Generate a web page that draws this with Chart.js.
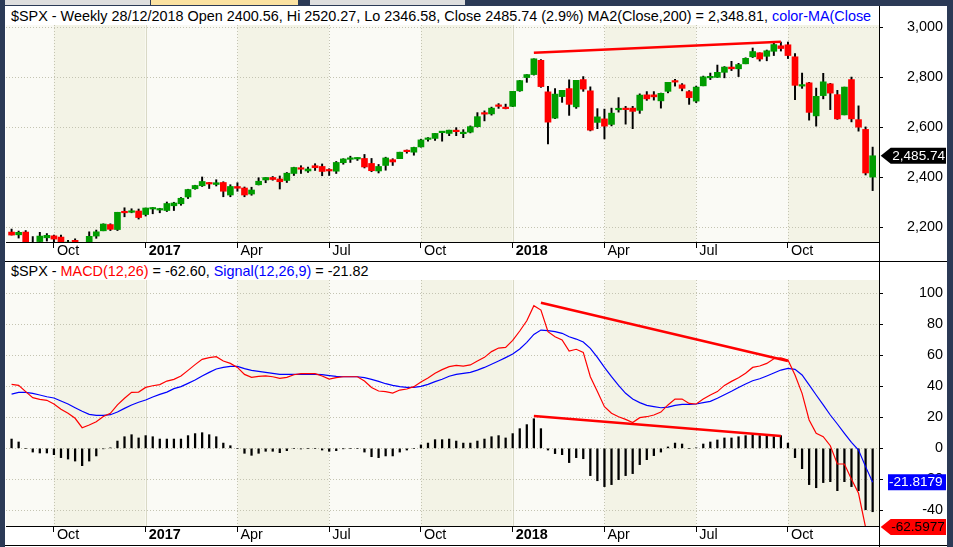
<!DOCTYPE html>
<html lang="en">
<head>
<meta charset="UTF-8">
<title>$SPX Weekly with MACD</title>
<style>
    html, body { margin: 0; padding: 0; }
    body {
        width: 953px;
        height: 547px;
        overflow: hidden;
        position: relative;
        background: #2b3a56;
        font-family: "Liberation Sans", Arial, sans-serif;
    }
    .tab { position: absolute; top: 0; height: 5px; }
    #panel { position: absolute; left: 5px; top: 6px; width: 942px; height: 541px; background: #fff; }
    canvas { position: absolute; }
    #priceCanvas { left: 6px; top: 7px; }
    #macdCanvas { left: 6px; top: 262px; }
    .header {
        position: absolute;
        left: 6px;
        height: 18px;
        line-height: 18px;
        font-size: 14.4px;
        background: #fff;
        white-space: nowrap;
        overflow: hidden;
        padding: 0 2px 0 5px;
        color: #000;
        z-index: 2;
    }
    .line { position: absolute; background: #000; z-index: 3; }
</style>
</head>
<body>
    <div class="tab" style="left:5px;width:145px;background:#dedede"></div>
    <div class="tab" style="left:151px;width:147px;background:#fbe2a2"></div>
    <div class="tab" style="left:310px;width:155px;background:#dedede"></div>
    <div id="panel"></div>

    <canvas id="priceCanvas" width="940" height="253"></canvas>
    <canvas id="macdCanvas" width="940" height="282"></canvas>

    <div class="header" style="top:7px;width:868px;box-sizing:border-box">$SPX - Weekly 28/12/2018 Open 2400.56, Hi 2520.27, Lo 2346.58, Close 2485.74 (2.9%) MA2(Close,200) = 2,348.81, <span style="color:#0000ff">color-MA(Close</span></div>
    <div class="header" style="top:262px">$SPX - <span style="color:#ff0000">MACD(12,26)</span> = -62.60, <span style="color:#0000ff">Signal(12,26,9)</span> = -21.82</div>

    <div class="line" style="left:5px;top:261px;width:942px;height:1px"></div>
    <div class="line" style="left:5px;top:545px;width:942px;height:1px"></div>
    <div class="line" style="left:879px;top:6px;width:1px;height:541px"></div>

    <script src="https://cdn.jsdelivr.net/npm/chart.js@4"></script>
    <script>
        // weekly candles, first week starts Mon 22 Aug 2016
        const open = [
            2181, 2170, 2181, 2120, 2143, 2158, 2166, 2161, 2132, 2148, 2129, 2100, 2165, 2186, 2211, 2191, 2261, 2260, 2265,
            2251, 2273, 2269, 2267, 2286, 2294, 2321, 2354, 2366, 2376, 2371, 2379, 2329, 2363, 2357, 2333, 2370, 2389, 2399, 2393,
            2387, 2415, 2437, 2425, 2446, 2443, 2431, 2424, 2458, 2471.5, 2473, 2475, 2455, 2425, 2447, 2470, 2474, 2505, 2500,
            2521, 2551, 2555, 2578, 2575, 2588, 2574, 2580, 2602, 2657, 2653, 2688, 2680,
            2683, 2745, 2798, 2810, 2867, 2741, 2636, 2722, 2754, 2681, 2790, 2745, 2619, 2633, 2611, 2669.5, 2675, 2676, 2667,
            2729, 2729, 2705, 2743, 2781, 2769, 2742, 2704, 2765, 2797, 2799, 2819, 2840, 2833, 2853, 2881, 2897, 2883, 2903, 2925,
            2929, 2881, 2764, 2777, 2645, 2726, 2773, 2730, 2649, 2790, 2630, 2591, 2400.56
        ];
        const high = [
            2193, 2185, 2187, 2163, 2180, 2175, 2169, 2169, 2148, 2154, 2133, 2182, 2189, 2214, 2214, 2260, 2278, 2274, 2273,
            2277, 2279, 2276, 2301, 2300, 2319, 2352, 2368, 2401, 2379, 2390, 2382, 2370, 2378, 2361, 2360, 2398, 2399, 2403, 2405,
            2419, 2440, 2446, 2441, 2454, 2453, 2434, 2463, 2474, 2484, 2478, 2491, 2475, 2451, 2480, 2474, 2500, 2509, 2520,
            2552, 2558, 2575, 2582, 2588, 2598, 2590, 2605, 2658, 2665, 2680, 2694, 2692,
            2743, 2787, 2810, 2873, 2870, 2763, 2754, 2747, 2789, 2787, 2802, 2761, 2674, 2672, 2676, 2718, 2683, 2683, 2733,
            2742, 2742, 2736, 2779, 2791, 2774, 2746, 2764, 2804, 2816, 2848, 2842, 2863, 2855, 2877, 2916, 2897, 2908, 2941, 2940,
            2940, 2894, 2816, 2779, 2756, 2815, 2775, 2747, 2760, 2800, 2685, 2601, 2520.27
        ];
        const low = [
            2169, 2157, 2127, 2119, 2139, 2145, 2142, 2115, 2124, 2123, 2083, 2084, 2156, 2186, 2187, 2187, 2242, 2258, 2233,
            2245, 2254, 2258, 2263, 2267, 2288, 2315, 2352, 2363, 2355, 2365, 2322, 2322, 2344, 2322, 2328, 2369, 2378, 2388, 2353,
            2379, 2407, 2415, 2419, 2427, 2406, 2407, 2415, 2452, 2459, 2467, 2437, 2422, 2417, 2428, 2447, 2474, 2496, 2488,
            2520, 2544, 2547, 2544, 2566, 2566, 2558, 2577, 2600, 2625, 2648, 2675, 2673,
            2682, 2743, 2779, 2808, 2759, 2533, 2634, 2699, 2647, 2675, 2743, 2585, 2594, 2553, 2605, 2660, 2612, 2594, 2655,
            2707, 2708, 2676, 2737, 2764, 2745, 2691, 2698, 2765, 2790, 2798, 2797, 2826, 2802, 2853, 2878, 2864, 2865, 2886, 2904,
            2874, 2710, 2755, 2628, 2604, 2713, 2670, 2631, 2649, 2621, 2584, 2409, 2346.58
        ];
        const close = [
            2169, 2180, 2128, 2139, 2165, 2168, 2153, 2133, 2141, 2126, 2085, 2164, 2182, 2213, 2192, 2260, 2258, 2264, 2239,
            2277, 2275, 2271, 2295, 2297, 2316, 2351, 2367, 2383, 2373, 2378, 2344, 2363, 2356, 2329, 2349, 2384, 2399, 2391, 2382,
            2416, 2439, 2432, 2433, 2438, 2423, 2425, 2459, 2473, 2472.1, 2477, 2441, 2426, 2443, 2477, 2461, 2500, 2502, 2519,
            2549, 2553, 2575, 2581, 2588, 2582, 2579, 2602, 2642, 2652, 2676, 2683, 2674,
            2743, 2786, 2810, 2873, 2762, 2620, 2732, 2747, 2691, 2787, 2752, 2588, 2641, 2604, 2656, 2670.1, 2670, 2663, 2728,
            2713, 2721, 2735, 2779, 2780, 2755, 2718, 2760, 2801, 2802, 2819, 2840, 2833, 2850, 2875, 2902, 2872, 2905, 2930, 2914,
            2886, 2767, 2768, 2659, 2723, 2781, 2736, 2633, 2760, 2633, 2600, 2417, 2485.74
        ];

        const macd = [
            41.3, 40.6, 36.6, 32.7, 31.6, 31.0, 28.6, 25.2, 22.6, 19.4, 13.3, 15.1, 17.2, 20.6, 22.6, 28.0, 32.3, 36.1, 36.3,
            39.3, 40.4, 41.1, 43.4, 44.5, 46.7, 50.3, 54.0, 57.4, 58.5, 59.1, 56.3, 54.8, 52.2, 47.7, 45.8, 46.4, 46.7, 46.2, 45.2,
            45.8, 47.5, 48.2, 48.2, 48.2, 46.7, 44.7, 45.6, 46.2, 46.2, 46.2, 43.4, 39.3, 37.0, 36.6, 35.7, 37.6, 38.3, 39.8,
            42.8, 45.4, 48.4, 50.8, 52.7, 53.5, 53.1, 53.8, 56.3, 58.7, 62.4, 64.7, 65.1,
            69.7, 75.7, 82.3, 92.0, 89.2, 75.3, 72.0, 69.9, 62.8, 63.9, 61.9, 46.2, 36.6, 26.9, 22.6, 20.4, 18.7, 16.6, 19.8,
            20.4, 21.5, 23.4, 28.0, 31.8, 31.8, 29.0, 28.6, 31.8, 34.4, 36.6, 40.6, 43.2, 45.6, 48.4, 52.2, 53.1, 54.8, 57.8, 58.3,
            57.0, 47.3, 35.5, 18.3, 9.7, 7.5, 1.7, -10.1, -10.1, -20.0, -29.0, -51.0, -62.5977
        ];
        const signal = [
            35.0, 36.1, 36.1, 35.5, 34.4, 33.3, 32.5, 30.5, 28.6, 26.2, 23.9, 21.9, 21.3, 21.3, 21.7, 23.4, 25.8, 28.0, 29.7,
            31.2, 33.1, 34.8, 36.3, 38.5, 39.8, 41.9, 44.1, 46.7, 49.0, 51.2, 52.2, 52.9, 52.9, 51.4, 50.3, 49.7, 49.0, 48.4, 47.7,
            47.7, 47.7, 47.7, 47.7, 47.7, 47.5, 46.9, 46.4, 46.2, 46.2, 46.2, 45.6, 44.5, 43.2, 41.7, 40.6, 39.8, 39.3, 39.3,
            40.0, 41.3, 43.0, 44.6, 46.5, 47.7, 48.4, 49.0, 50.5, 52.2, 54.2, 56.3, 58.5,
            60.8, 64.1, 68.4, 73.5, 76.3, 75.9, 75.3, 74.2, 72.0, 70.5, 68.6, 64.5, 58.7, 52.2, 46.2, 40.6, 35.5, 31.8, 29.5,
            27.7, 26.9, 26.2, 26.6, 27.7, 28.4, 28.4, 28.6, 29.5, 30.3, 32.3, 34.6, 36.8, 39.3, 41.5, 43.6, 44.9, 46.7, 48.6, 50.5,
            51.6, 51.0, 47.3, 40.9, 34.4, 28.0, 21.5, 15.7, 9.7, 3.9, -1.1, -11.8, -21.8179
        ];
        const hist = [
            6.0, 4.1, 0, -2.4, -3.0, -3.0, -4.1, -6.0, -6.9, -8.2, -11.2, -8.2, -4.9, -0.3, 0.3, 4.7, 7.5, 8.8, 6.7,
            8.2, 7.5, 6.0, 6.0, 6.0, 6.0, 8.2, 9.5, 10.1, 8.8, 7.5, 3.4, 1.7, 0, -3.2, -4.5, -3.2, -1.9, -1.9, -2.8,
            -1.5, 0, -0.4, 0, 0, -1.1, -1.9, -1.5, -0.2, 0, 0, -2.4, -5.4, -6.0, -4.9, -4.9, -2.4, -1.1, 0,
            2.2, 3.4, 5.6, 5.6, 6.0, 4.7, 3.4, 3.4, 4.7, 6.0, 7.5, 8.2, 6.7,
            9.5, 12.7, 15.3, 19.1, 12.7, -1.1, -3.4, -4.1, -9.2, -6.0, -6.7, -17.6, -20.9, -24.7, -23.4, -20.2, -17.6, -16.3, -10.5,
            -7.3, -4.7, -2.4, 0.9, 3.4, 2.8, 0, 0.3, 2.8, 4.1, 5.4, 6.7, 6.7, 7.5, 8.2, 8.8, 8.2, 8.2, 7.5, 8.2,
            3.4, -6.0, -13.1, -23.4, -25.4, -22.1, -21.5, -27.3, -21.5, -24.7, -27.3, -39.6, -40.9
        ];

        const tickWeeks = ['2016-10-03', '2017-01-02', '2017-04-03', '2017-07-03', '2017-10-02',
                           '2018-01-01', '2018-04-02', '2018-07-02', '2018-10-01'];
        const tickLabels = ['Oct', '2017', 'Apr', 'Jul', 'Oct', '2018', 'Apr', 'Jul', 'Oct'];
        const priceTicks = [2200, 2400, 2600, 2800, 3000];
        const macdTicks = [-40, -20, 0, 20, 40, 60, 80, 100];

        // hand drawn divergence lines
        const priceTrendWeeks = ['2018-01-22', '2018-09-24'];
        const priceTrendValues = [2897, 2941];
        const macdTrendWeeks = ['2018-01-29', '2018-10-01'];
        const macdTrendValues = [93.9, 56.3];
        const histTrendWeeks = ['2018-01-22', '2018-09-24'];
        const histTrendValues = [20.8, 7.9];

        const weeks = close.map((_, i) => new Date(Date.UTC(2016, 7, 22 + 7 * i)).toISOString().slice(0, 10));
        const wk = w => weeks.indexOf(w);

        const GREEN = '#009c00';
        const RED = '#ff0000';
        const FONT = '"Liberation Sans", Arial, sans-serif';
        const AXIS_W = 64;

        Chart.defaults.font.family = FONT;
        Chart.defaults.font.size = 14.4;
        Chart.defaults.color = '#000';

        // alternating quarter shading and quarter/year separators
        const quarterBands = {
            id: 'quarterBands',
            beforeDraw(chart) {
                const { ctx, chartArea: a, scales: { x } } = chart;
                const idx = tickWeeks.map(wk);
                const edges = [x.min, ...idx, x.max];
                ctx.save();
                for (let k = 0; k < edges.length - 1; k++) {
                    const x0 = x.getPixelForValue(edges[k]);
                    const x1 = x.getPixelForValue(edges[k + 1]);
                    const lbl = k > 0 ? tickLabels[k - 1] : '';
                    ctx.fillStyle = (lbl === 'Oct' || lbl === 'Apr') ? '#f3f3e6' : '#fafaf5';
                    ctx.fillRect(x0, a.top, x1 - x0, a.bottom - a.top);
                }
                idx.forEach((v, k) => {
                    const px = Math.round(x.getPixelForValue(v)) + 0.5;
                    const year = /^\d{4}$/.test(tickLabels[k]);
                    ctx.strokeStyle = year ? '#d9d9c6' : '#c4c4b2';
                    ctx.lineWidth = 1;
                    ctx.setLineDash(year ? [] : [1, 2]);
                    ctx.beginPath();
                    ctx.moveTo(px, a.top);
                    ctx.lineTo(px, a.bottom);
                    ctx.stroke();
                });
                ctx.restore();
            }
        };

        // last value tags on the right axis
        const valueTags = {
            id: 'valueTags',
            afterDraw(chart, args, opts) {
                const { ctx, chartArea: a, scales: { y } } = chart;
                ctx.save();
                ctx.font = '13.6px ' + FONT;
                ctx.textBaseline = 'middle';
                opts.tags.forEach(t => {
                    const py = Math.min(Math.max(y.getPixelForValue(t.value), a.top), a.bottom + 1);
                    const left = a.right + t.left;
                    const right = a.right + 67;
                    ctx.fillStyle = t.bg;
                    ctx.beginPath();
                    if (t.arrow) {
                        ctx.moveTo(a.right + 1.7, py);
                        ctx.lineTo(left, py - 8);
                        ctx.lineTo(right, py - 8);
                        ctx.lineTo(right, py + 8);
                        ctx.lineTo(left, py + 8);
                    } else {
                        ctx.rect(left, py - 8, right - left, 16);
                    }
                    ctx.closePath();
                    ctx.fill();
                    ctx.fillStyle = t.fg;
                    ctx.fillText(t.text, left + t.textIn, py + 0.5);
                });
                ctx.restore();
            }
        };

        function xAxis() {
            return {
                type: 'linear',
                min: -0.79,
                max: 122.9,
                offset: false,
                grid: { drawOnChartArea: false, offset: false, tickLength: 6, tickColor: '#000', tickWidth: 1 },
                border: { color: '#000', width: 1 },
                afterBuildTicks: s => { s.ticks = tickWeeks.map(w => ({ value: wk(w) })); },
                afterFit: s => { s.height = 18; s.paddingLeft = 0; s.paddingRight = 0; },
                ticks: {
                    autoSkip: false,
                    maxRotation: 0,
                    align: 'start',
                    labelOffset: 3,
                    padding: -6,
                    color: '#000',
                    font: c => ({ size: 14.4, weight: (c.tick && /^\d{4}$/.test(c.tick.label)) ? 'bold' : 'normal' }),
                    callback: (v, i) => tickLabels[i]
                }
            };
        }

        function yAxis(min, max, values, fmt) {
            return {
                type: 'linear',
                position: 'right',
                min: min,
                max: max,
                grid: { color: '#c4c4b2', tickLength: 4, tickColor: '#000', tickBorderDash: [] },
                border: { color: '#000', dash: [1, 2] },
                afterBuildTicks: s => { s.ticks = values.map(v => ({ value: v })); },
                afterFit: s => { s.width = AXIS_W; s.paddingTop = 0; s.paddingBottom = 0; },
                ticks: { padding: 6, crossAlign: 'far', color: '#000', font: { size: 14.4 }, callback: fmt }
            };
        }

        const baseOptions = {
            responsive: false,
            animation: false,
            events: [],
            layout: { padding: { top: 18, left: 0, right: 67 - AXIS_W, bottom: 0 } },
            plugins: { legend: { display: false }, tooltip: { enabled: false } }
        };

        const last = close.length - 1;

        new Chart(document.getElementById('priceCanvas'), {
            type: 'bar',
            data: {
                datasets: [
                    {
                        type: 'line',
                        data: priceTrendWeeks.map((w, k) => ({ x: wk(w), y: priceTrendValues[k] })),
                        borderColor: RED,
                        borderWidth: 2.5,
                        pointRadius: 0,
                        order: 0,
                        clip: 0
                    },
                    {
                        data: open.map((o, i) => ({ x: i, y: [o, close[i]] })),
                        backgroundColor: c => (c.dataIndex !== undefined && close[c.dataIndex] < open[c.dataIndex]) ? RED : GREEN,
                        borderWidth: 0,
                        barThickness: 6,
                        minBarLength: 1.5,
                        grouped: false,
                        order: 1,
                        clip: 0
                    },
                    {
                        data: low.map((l, i) => ({ x: i, y: [l, high[i]] })),
                        backgroundColor: '#000',
                        borderWidth: 0,
                        barThickness: 1.3,
                        grouped: false,
                        order: 2,
                        clip: 0
                    }
                ]
            },
            options: Object.assign({}, baseOptions, {
                scales: {
                    x: xAxis(),
                    y: yAxis(2141.3, 3008, priceTicks, v => v.toLocaleString('en-US'))
                },
                plugins: Object.assign({}, baseOptions.plugins, {
                    valueTags: {
                        tags: [
                            { value: close[last], text: close[last].toLocaleString('en-US', { minimumFractionDigits: 2 }),
                              bg: '#000', fg: '#fff', arrow: true, left: 11.7, textIn: 1.5 }
                        ]
                    }
                })
            }),
            plugins: [quarterBands, valueTags]
        });

        new Chart(document.getElementById('macdCanvas'), {
            type: 'bar',
            data: {
                datasets: [
                    {
                        type: 'line',
                        data: macdTrendWeeks.map((w, k) => ({ x: wk(w), y: macdTrendValues[k] })),
                        borderColor: RED, borderWidth: 2.5, pointRadius: 0, order: 0, clip: 0
                    },
                    {
                        type: 'line',
                        data: histTrendWeeks.map((w, k) => ({ x: wk(w), y: histTrendValues[k] })),
                        borderColor: RED, borderWidth: 2.5, pointRadius: 0, order: 0, clip: 0
                    },
                    {
                        type: 'line',
                        data: macd.map((v, i) => ({ x: i, y: v })),
                        borderColor: RED, borderWidth: 1.2, pointRadius: 0, order: 1, clip: 0
                    },
                    {
                        type: 'line',
                        data: signal.map((v, i) => ({ x: i, y: v })),
                        borderColor: '#0000ff', borderWidth: 1.2, pointRadius: 0, order: 2, clip: 0
                    },
                    {
                        data: hist.map((v, i) => ({ x: i, y: v })),
                        backgroundColor: '#000',
                        borderWidth: 0,
                        barThickness: 1.6,
                        grouped: false,
                        order: 3,
                        clip: 0
                    }
                ]
            },
            options: Object.assign({}, baseOptions, {
                scales: {
                    x: xAxis(),
                    y: yAxis(-50.1, 108.6, macdTicks, v => String(v))
                },
                plugins: Object.assign({}, baseOptions.plugins, {
                    valueTags: {
                        tags: [
                            { value: signal[last], text: signal[last].toFixed(4), bg: '#0000ff', fg: '#fff', arrow: false, left: 9, textIn: 1 },
                            { value: macd[last], text: macd[last].toFixed(4), bg: '#ff0000', fg: '#000', arrow: true, left: 11.7, textIn: 0.5 }
                        ]
                    }
                })
            }),
            plugins: [quarterBands, valueTags]
        });
    </script>
</body>
</html>
